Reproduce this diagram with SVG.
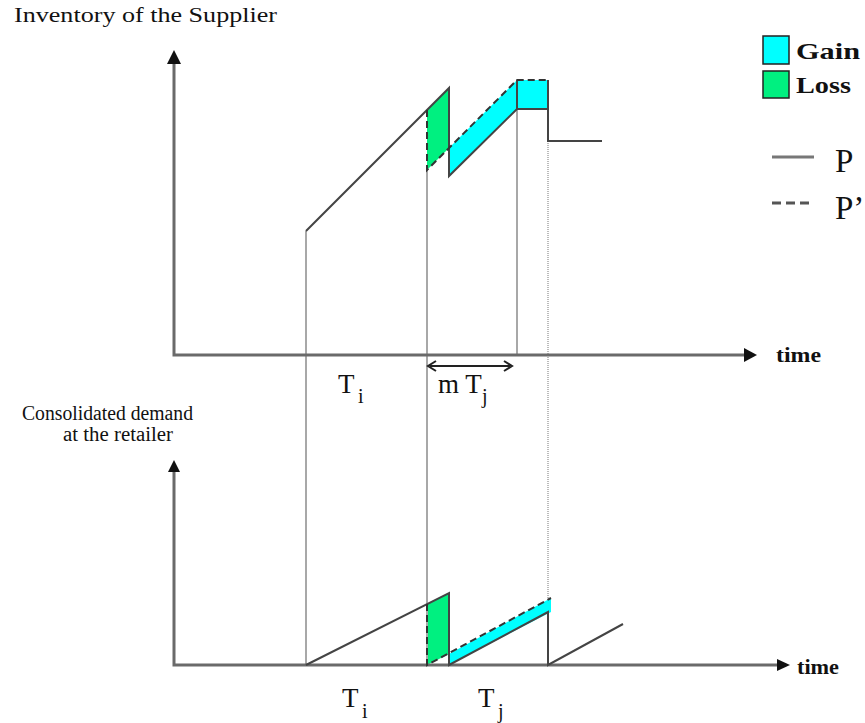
<svg xmlns="http://www.w3.org/2000/svg" width="865" height="723" viewBox="0 0 865 723">
<style>
text{font-family:"Liberation Serif","Times New Roman",serif;fill:#111}
.axis{stroke:#6a6a6a;stroke-width:3;fill:none}
.head{fill:#111}
.p{stroke:#444;stroke-width:2;fill:none}
.pd{stroke:#333;stroke-width:2;fill:none;stroke-dasharray:7 4}
.guide{stroke:#a8a8a8;stroke-width:2;fill:none}
.dot{stroke:#bbb;stroke-width:2;fill:none;stroke-dasharray:1 1}
.gain{fill:#00ffff}
.loss{fill:#00f080}
.b{font-weight:bold}
</style>
<rect width="865" height="723" fill="#fff"/>

<g id="regions">
  <polygon class="loss" points="427,110 449,88 449,148 427,170"/>
  <polygon class="gain" points="449,148 517,80 549,80 549,109 517,109 449,176"/>
  <polygon class="loss" points="427,604 449,593 449,654 427,665"/>
  <polygon class="gain" points="449,654 551,598 551,612 449,665"/>
</g>

<g id="guides">
  <path class="guide" d="M306,231 V665"/>
  <path class="guide" d="M427,170 V665"/>
  <path class="guide" d="M517,109 V355"/>
  <path class="dot" d="M548,141 V600"/>
</g>

<g id="axes">
  <path class="axis" d="M174,62 V355 H746"/>
  <polygon class="head" points="174,50 167,64 181,64"/>
  <polygon class="head" points="757,355 744,348 744,362"/>
  <path class="axis" d="M174,470 V665 H779"/>
  <polygon class="head" points="174,460 168,472 180,472"/>
  <polygon class="head" points="790,665 777,659 777,671"/>
</g>

<g id="connectors">
  <path class="p" d="M306,231 L449,88 V176 L517,109 H548 V141 H602"/>
  <path class="p" d="M548,80 V109"/>
  <path class="p" d="M517,80 V109"/>
  <path class="pd" d="M427,110 V170 L517,80 H548"/>
  <path class="p" d="M306,665 L449,593 V665 L548,612 V665 L623,624"/>
  <path class="pd" d="M427,604 V665 L551,598"/>
  <path d="M430,366 H510 M436,361 L428,366 L436,371 M504,361 L512,366 L504,371" stroke="#222" stroke-width="2" fill="none"/>
</g>

<g id="labels">
  <text x="14" y="22" font-size="20" textLength="263" lengthAdjust="spacingAndGlyphs">Inventory of the Supplier</text>
  <text x="22" y="420" font-size="20" textLength="171" lengthAdjust="spacingAndGlyphs">Consolidated demand</text>
  <text x="63" y="441" font-size="20" textLength="110" lengthAdjust="spacingAndGlyphs">at the retailer</text>
  <text class="b" x="776" y="362" font-size="20" textLength="45" lengthAdjust="spacingAndGlyphs">time</text>
  <text class="b" x="797" y="674" font-size="20" textLength="42" lengthAdjust="spacingAndGlyphs">time</text>
  <text x="338" y="393" font-size="27">T</text>
  <text x="358" y="403" font-size="20">i</text>
  <text x="438" y="393" font-size="27">m T</text>
  <text x="482" y="403" font-size="20">j</text>
  <text x="342" y="707" font-size="27">T</text>
  <text x="362" y="718" font-size="20">i</text>
  <text x="478" y="707" font-size="27">T</text>
  <text x="498" y="718" font-size="20">j</text>
</g>

<g id="legend">
  <rect class="gain" x="763" y="36" width="26" height="28" stroke="#222" stroke-width="1.5"/>
  <rect class="loss" x="763" y="71" width="26" height="27" stroke="#222" stroke-width="1.5"/>
  <text class="b" x="796" y="59" font-size="24" textLength="64" lengthAdjust="spacingAndGlyphs">Gain</text>
  <text class="b" x="796" y="93" font-size="24" textLength="55" lengthAdjust="spacingAndGlyphs">Loss</text>
  <path d="M772,157 H814" stroke="#777" stroke-width="3"/>
  <path d="M772,203 H814" stroke="#555" stroke-width="3" stroke-dasharray="9 5"/>
  <text x="835" y="172" font-size="33">P</text>
  <text x="835" y="219" font-size="33">P’</text>
</g>
</svg>
